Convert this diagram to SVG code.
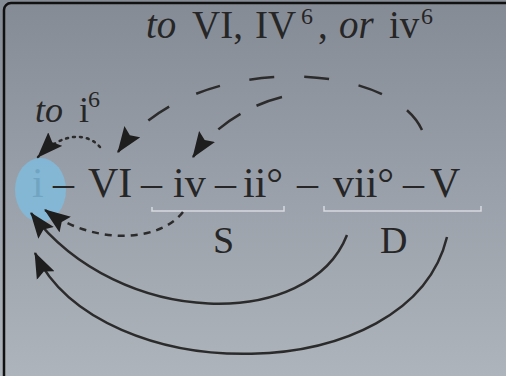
<svg xmlns="http://www.w3.org/2000/svg" width="506" height="376" viewBox="0 0 506 376">
  <style>
    .t { font-family: "Liberation Serif", "Times New Roman", serif; fill: #262626; }
    .it { font-style: italic; }
    .ch { font-size: 42px; }
    .br { stroke: #d6dadf; stroke-width: 1.5; fill: none; }
    .arc { fill: none; stroke: #2b2b2b; stroke-width: 2.5; }
  </style>
  <defs>
    <linearGradient id="bg" x1="0" y1="0" x2="0" y2="1">
      <stop offset="0" stop-color="#858b95"/>
      <stop offset="0.5" stop-color="#9aa0a9"/>
      <stop offset="1" stop-color="#aeb4bb"/>
    </linearGradient>
    <marker id="ah" markerUnits="userSpaceOnUse" markerWidth="26" markerHeight="20" viewBox="0 0 24 18" refX="23" refY="9" orient="auto">
      <path d="M0,0 L24,9 L0,18 L4,9 z" fill="#1e1e1e"/>
    </marker>
  </defs>

  <rect width="506" height="376" fill="url(#bg)"/>
  <rect x="4" y="3" width="520" height="400" rx="7" fill="none" stroke="#111" stroke-width="2.5"/>

  <g id="title">
    <text class="t" font-size="39" y="38"><tspan class="it" x="146">to</tspan><tspan x="192">VI,</tspan><tspan x="255">IV</tspan><tspan x="301" y="24" font-size="24">6</tspan><tspan x="318" y="38">,</tspan><tspan class="it" x="339">or</tspan><tspan x="389">iv</tspan><tspan x="421" y="24" font-size="24">6</tspan></text>
  </g>

  <g id="label-to-i6">
    <text class="t" font-size="36" y="122"><tspan class="it" x="35">to</tspan><tspan x="79">i</tspan><tspan x="88" y="107" font-size="24">6</tspan></text>
  </g>

  <g id="node-i">
    <text class="t ch" x="32" y="197">i</text>
    <ellipse cx="40.5" cy="190" rx="25.5" ry="32" fill="#7fbbdc" fill-opacity="0.85"/>
  </g>
  <g id="dashes">
    <text class="t ch" y="197"><tspan x="53">–</tspan><tspan x="141">–</tspan><tspan x="215">–</tspan><tspan x="297">–</tspan><tspan x="403">–</tspan></text>
  </g>
  <g id="node-VI"><text class="t ch" x="88" y="197">VI</text></g>
  <g id="node-iv"><text class="t ch" x="173" y="197">iv</text></g>
  <g id="node-ii"><text class="t ch" x="243" y="197">ii°</text></g>
  <g id="node-vii"><text class="t ch" x="333" y="197">vii°</text></g>
  <g id="node-V"><text class="t ch" x="430" y="197">V</text></g>

  <g id="bracket-S">
    <path class="br" d="M152,207 V211 H284 V206"/>
    <text class="t" font-size="38" x="213" y="253">S</text>
  </g>
  <g id="bracket-D">
    <path class="br" d="M324,206 V211 H481 V206"/>
    <text class="t" font-size="38" x="380" y="253">D</text>
  </g>

  <g id="connectors">
    <path class="arc" d="M100,147 C88,133 63,131 38,157" stroke-dasharray="2 5" stroke-linecap="round" marker-end="url(#ah)"/>
    <path class="arc" d="M183,212 C160,242 95,246 45,210" stroke-dasharray="7 6" marker-end="url(#ah)"/>
    <path class="arc" d="M422,130 C390,60 190,50 118,152" stroke-dasharray="25 30" marker-end="url(#ah)"/>
    <path class="arc" d="M282,97 C250,105 215,125 193,157" stroke-dasharray="27 18" marker-end="url(#ah)"/>
    <path class="arc" d="M347,235 C310,330 120,330 31,213" marker-end="url(#ah)"/>
    <path class="arc" d="M447,237 C410,390 100,390 35,253" marker-end="url(#ah)"/>
  </g>
</svg>
